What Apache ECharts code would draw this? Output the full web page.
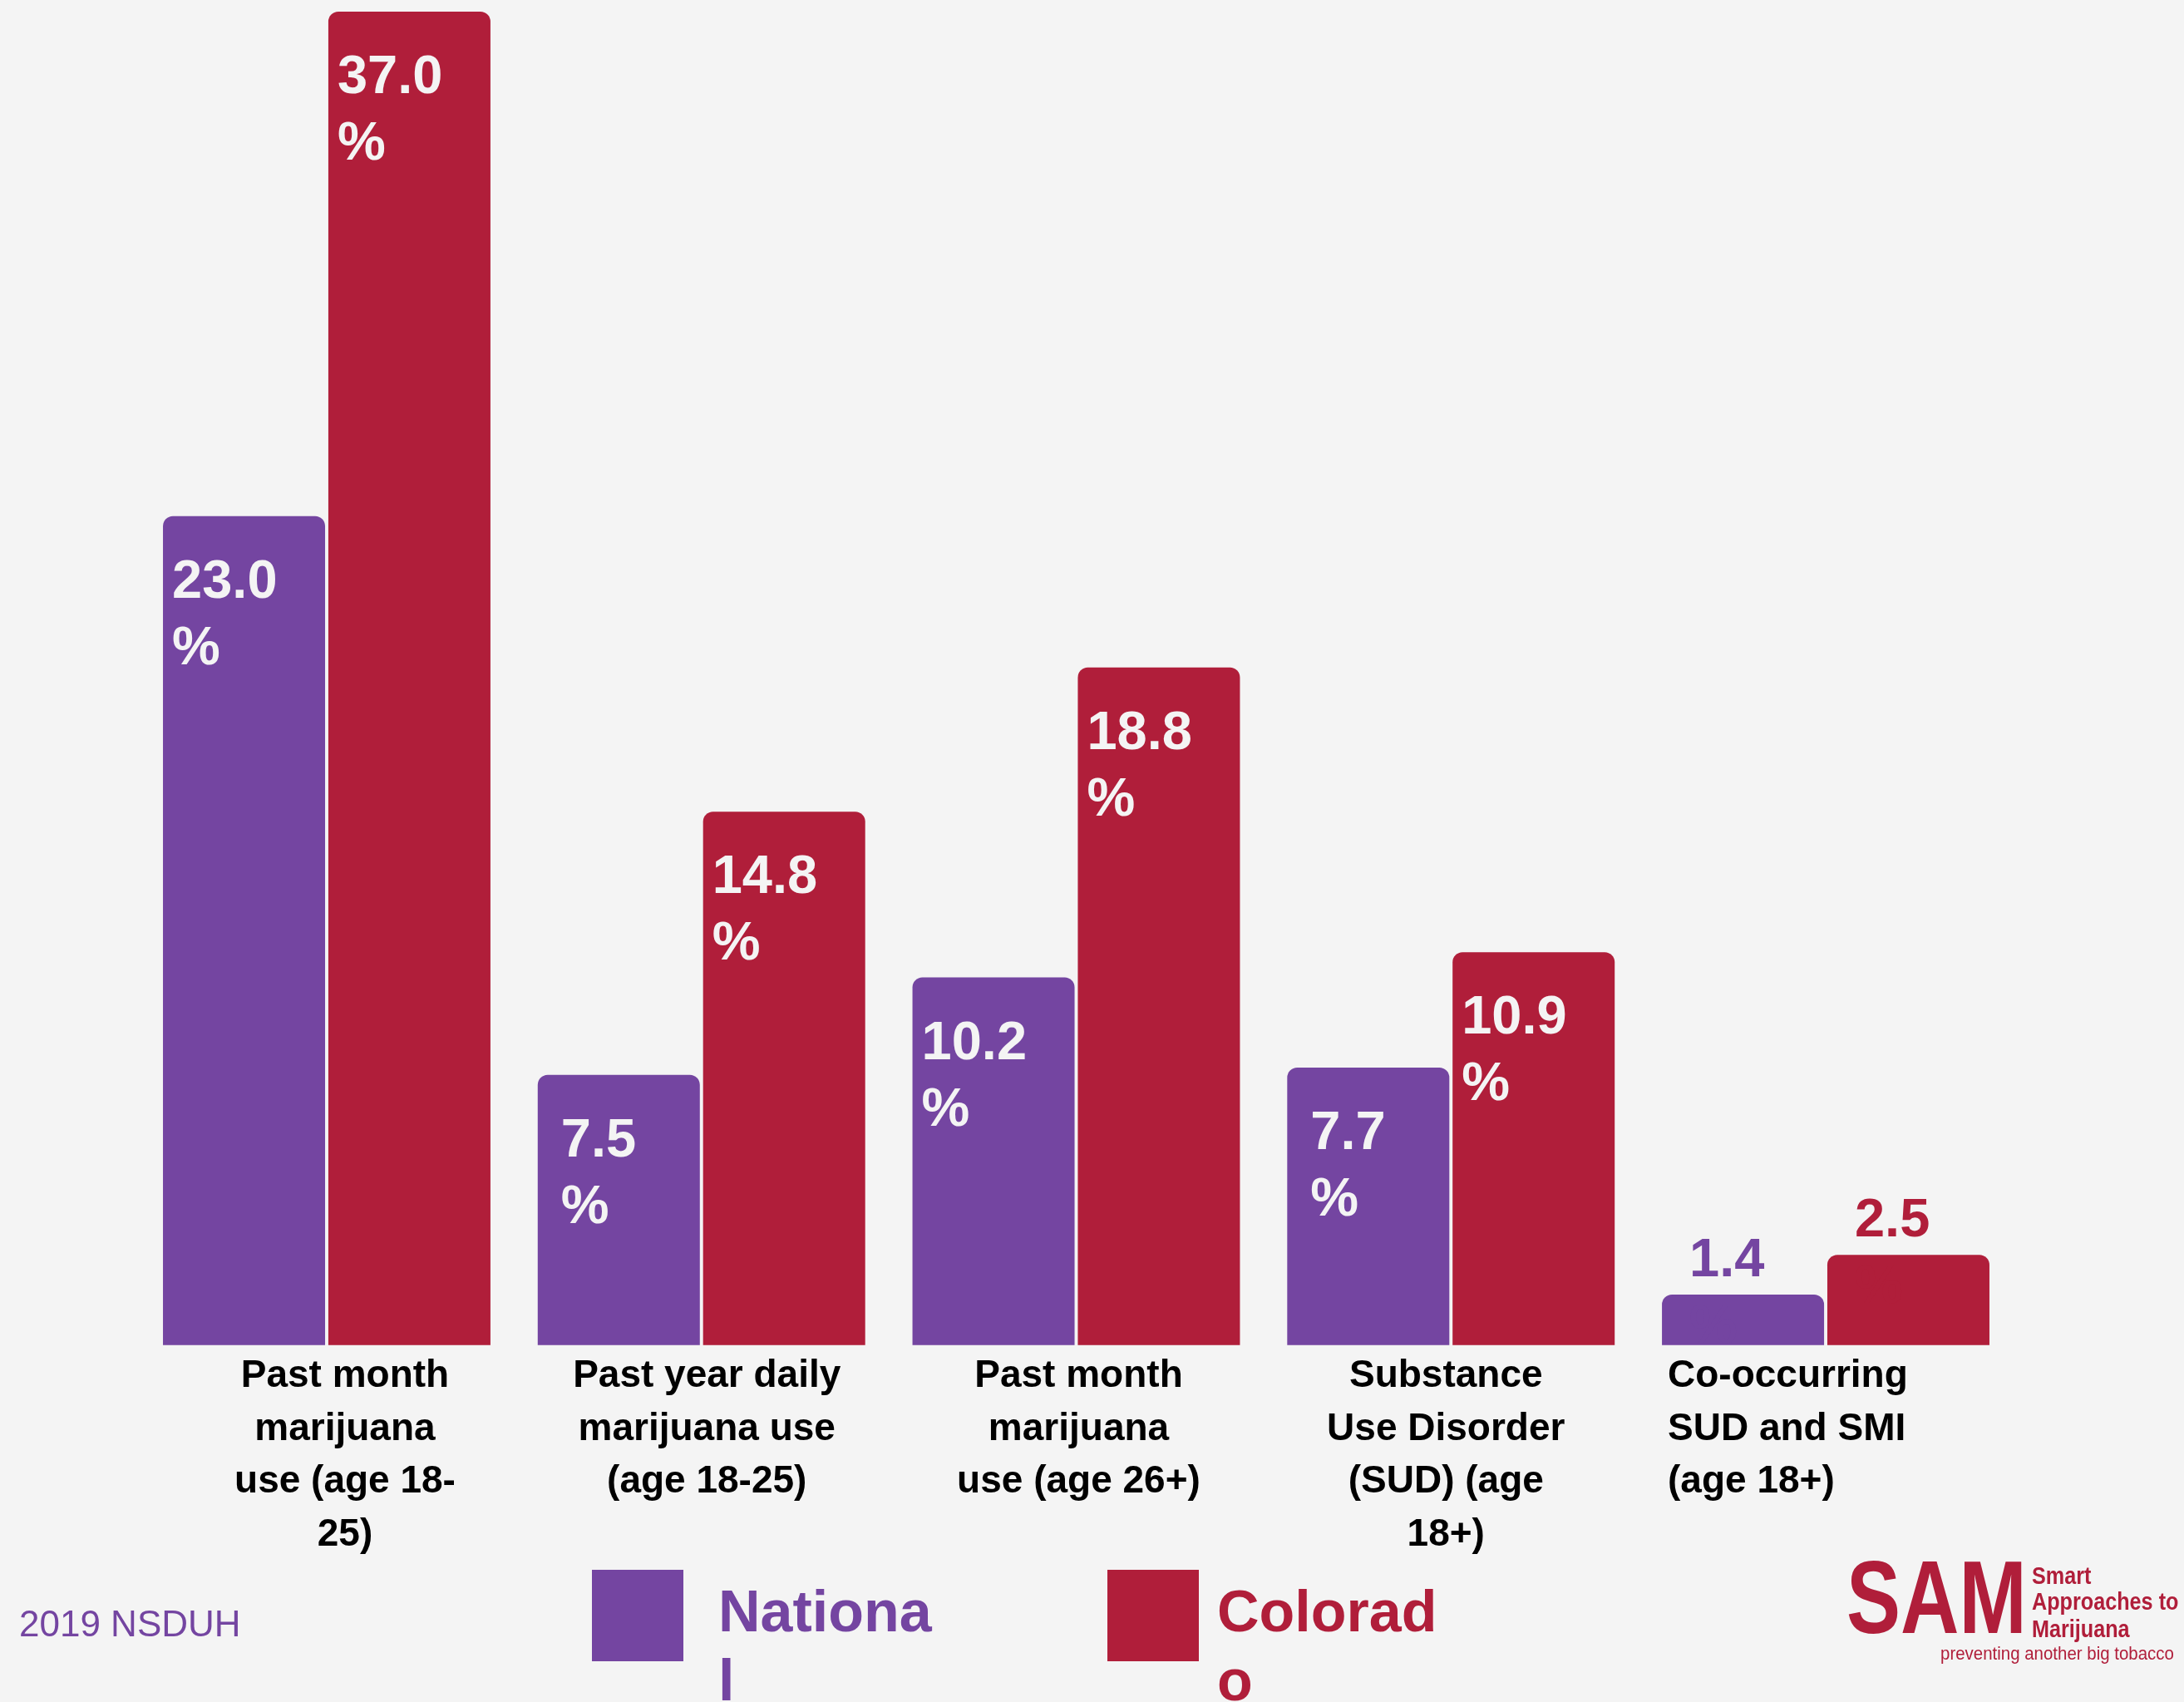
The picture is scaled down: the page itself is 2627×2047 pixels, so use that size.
<!DOCTYPE html>
<html><head><meta charset="utf-8">
<script src="https://cdn.jsdelivr.net/npm/echarts@6/dist/echarts.min.js"></script>
<style>html,body{margin:0;padding:0;background:#f4f4f4}#c{width:2627px;height:2047px}</style>
</head><body><div id="c"></div>
<script>
const categories = [
  'Past month marijuana use (age 18-25)',
  'Past year daily marijuana use (age 18-25)',
  'Past month marijuana use (age 26+)',
  'Substance Use Disorder (SUD) (age 18+)',
  'Co-occurring SUD and SMI (age 18+)'
];
const categoryLines = [
  ['Past month', 'marijuana', 'use (age 18-', '25)'],
  ['Past year daily', 'marijuana use', '(age 18-25)'],
  ['Past month', 'marijuana', 'use (age 26+)'],
  ['Substance', 'Use Disorder', '(SUD) (age', '18+)'],
  ['Co-occurring', 'SUD and SMI', '(age 18+)']
];
const seriesNames = ['National', 'Colorado'];
const nationalValues = [23.0, 7.5, 10.2, 7.7, 1.4];
const coloradoValues = [37.0, 14.8, 18.8, 10.9, 2.5];

const PURPLE = '#7445a1';
const RED = '#b01e3a';
const BG = '#f4f4f4';
const FONT = 'Liberation Sans, Arial, sans-serif';

function buildItems(vals, color) {
  return vals.map(v => {
    const txt = v.toFixed(1);
    return {
      value: v,
      label: v >= 5
        ? { position: [txt.length <= 3 ? 28 : 11, 40], color: BG }
        : { position: [33, -80], color: color }
    };
  });
}

const barLabel = {
  show: true,
  formatter: p => p.value.toFixed(1) + '\n%',
  fontFamily: FONT, fontWeight: 'bold', fontSize: 65, lineHeight: 80,
  align: 'left', verticalAlign: 'top'
};

const base = { fontFamily: FONT, fontWeight: 'bold', fontSize: 46, lineHeight: 63.5, color: '#000' };
const rich = {
  c0: Object.assign({}, base, { padding: [0, 0, 0, 44] }),
  c1: Object.assign({}, base, { padding: [0, 0, 0, 13] }),
  c2: Object.assign({}, base, { padding: [0, 0, 0, 6] }),
  c3: Object.assign({}, base, { padding: [0, 12, 0, 0] }),
  c4: Object.assign({}, base, { width: 380, align: 'left' })
};

// square icon with empty space below so the first text line sits beside the square
const legendIcon = 'path://M0,0L110,0L110,110L0,110Z M0,193L110,193Z';

const chart = echarts.init(document.getElementById('c'), null, { renderer: 'canvas' });
chart.setOption({
  backgroundColor: BG,
  animation: false,
  grid: { left: 167.6, right: 205.6, top: 14, bottom: 429.3, containLabel: false },
  xAxis: {
    type: 'category',
    data: categories,
    axisLine: { show: false },
    axisTick: { show: false },
    axisLabel: {
      interval: 0, margin: 6,
      formatter: (v, i) => categoryLines[i].map(l => '{c' + i + '|' + l + '}').join('\n'),
      rich: rich
    }
  },
  yAxis: { type: 'value', min: 0, max: 37, show: false, splitLine: { show: false } },
  legend: {
    left: 712, top: 1888, padding: 0,
    itemWidth: 110, itemHeight: 193, itemGap: 200,
    icon: legendIcon,
    data: [
      { name: seriesNames[0], textStyle: { color: PURPLE, padding: [0, 0, 0, 37] } },
      { name: seriesNames[1], textStyle: { color: RED, padding: [0, 0, 0, 17] } }
    ],
    textStyle: {
      fontFamily: FONT, fontWeight: 'bold', fontSize: 70, lineHeight: 83,
      width: 268, overflow: 'breakAll', padding: [0, 0, 0, 37]
    }
  },
  series: [
    {
      name: seriesNames[0], type: 'bar', data: buildItems(nationalValues, PURPLE),
      barWidth: 195, barGap: '2%',
      itemStyle: { color: PURPLE, borderRadius: [12, 12, 0, 0] },
      label: barLabel
    },
    {
      name: seriesNames[1], type: 'bar', data: buildItems(coloradoValues, RED),
      barWidth: 195, barGap: '2%',
      itemStyle: { color: RED, borderRadius: [12, 12, 0, 0] },
      label: barLabel
    }
  ],
  graphic: [
    { type: 'text', x: 23, y: 1956, style: { text: '2019 NSDUH', fill: PURPLE, font: '44px ' + FONT, verticalAlign: 'middle' } },
    { type: 'text', x: 2221, y: 1930, scaleX: 0.78, style: { text: 'SAM', fill: RED, font: 'bold 125px ' + FONT, verticalAlign: 'middle' } },
    { type: 'text', x: 2444, y: 1897, scaleX: 0.84, style: { text: 'Smart', fill: RED, font: 'bold 30px ' + FONT, verticalAlign: 'middle' } },
    { type: 'text', x: 2444, y: 1928, scaleX: 0.84, style: { text: 'Approaches to', fill: RED, font: 'bold 30px ' + FONT, verticalAlign: 'middle' } },
    { type: 'text', x: 2444, y: 1961, scaleX: 0.84, style: { text: 'Marijuana', fill: RED, font: 'bold 30px ' + FONT, verticalAlign: 'middle' } },
    { type: 'text', x: 2334, y: 1990, scaleX: 0.93, style: { text: 'preventing another big tobacco', fill: RED, font: '22px ' + FONT, verticalAlign: 'middle' } }
  ]
});
</script>
</body></html>
